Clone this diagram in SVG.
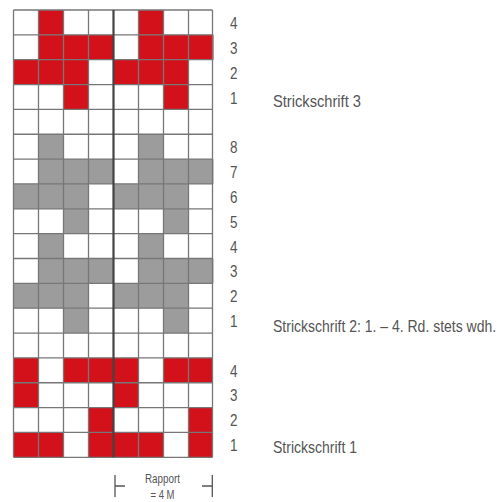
<svg xmlns="http://www.w3.org/2000/svg" width="502" height="502" viewBox="0 0 502 502">
<style>
.r{fill:#d2111b}
.g{fill:#9c9c9c}
.gl{stroke:#777;stroke-width:1.3;fill:none}
.mid{stroke:#444;stroke-width:2.2}
.t{font-family:"Liberation Sans",Arial,sans-serif;fill:#555}
.n{font-size:17px}
.l{font-size:14px}
.b{stroke:#555;stroke-width:1.3;fill:none}
</style>
<rect width="502" height="502" fill="#fff"/>
<defs>
<g id="m1"><rect x="25" y="0" width="25" height="24.85"/></g>
<g id="m3"><rect x="25" y="0" width="75" height="24.85"/></g>
<g id="m2"><rect x="0" y="0" width="75" height="24.85"/></g>
<g id="m0"><rect x="50" y="0" width="25" height="24.85"/></g>
</defs>
<g id="strickschrift3" class="r">
<use href="#m1" x="13.5" y="10"/><use href="#m1" x="113.5" y="10"/>
<use href="#m3" x="13.5" y="34.85"/><use href="#m3" x="113.5" y="34.85"/>
<use href="#m2" x="13.5" y="59.7"/><use href="#m2" x="113.5" y="59.7"/>
<use href="#m0" x="13.5" y="84.55"/><use href="#m0" x="113.5" y="84.55"/>
</g>
<g id="strickschrift2" class="g">
<use href="#m1" x="13.5" y="134.25"/><use href="#m1" x="113.5" y="134.25"/>
<use href="#m3" x="13.5" y="159.1"/><use href="#m3" x="113.5" y="159.1"/>
<use href="#m2" x="13.5" y="183.95"/><use href="#m2" x="113.5" y="183.95"/>
<use href="#m0" x="13.5" y="208.8"/><use href="#m0" x="113.5" y="208.8"/>
<use href="#m1" x="13.5" y="233.65"/><use href="#m1" x="113.5" y="233.65"/>
<use href="#m3" x="13.5" y="258.5"/><use href="#m3" x="113.5" y="258.5"/>
<use href="#m2" x="13.5" y="283.35"/><use href="#m2" x="113.5" y="283.35"/>
<use href="#m0" x="13.5" y="308.2"/><use href="#m0" x="113.5" y="308.2"/>
</g>
<g id="strickschrift1" class="r">
<rect x="13.5" y="357.9" width="25" height="24.85"/><rect x="63.5" y="357.9" width="75" height="24.85"/><rect x="163.5" y="357.9" width="49" height="24.85"/>
<rect x="13.5" y="382.75" width="25" height="24.85"/><rect x="113.5" y="382.75" width="25" height="24.85"/>
<rect x="88.5" y="407.6" width="25" height="24.85"/><rect x="188.5" y="407.6" width="24" height="24.85"/>
<rect x="13.5" y="432.45" width="50" height="24.85"/><rect x="88.5" y="432.45" width="75" height="24.85"/><rect x="188.5" y="432.45" width="24" height="24.85"/>
</g>
<g id="grid" class="gl">
<path d="M13.5 10V457.3M38.5 10V457.3M63.5 10V457.3M88.5 10V457.3M138.5 10V457.3M163.5 10V457.3M188.5 10V457.3M212.5 10V457.3"/>
<path d="M13.5 10H212.5M13.5 34.85H212.5M13.5 59.7H212.5M13.5 84.55H212.5M13.5 109.4H212.5M13.5 134.25H212.5M13.5 159.1H212.5M13.5 183.95H212.5M13.5 208.8H212.5M13.5 233.65H212.5M13.5 258.5H212.5M13.5 283.35H212.5M13.5 308.2H212.5M13.5 333.05H212.5M13.5 357.9H212.5M13.5 382.75H212.5M13.5 407.6H212.5M13.5 432.45H212.5M13.5 457.3H212.5"/>
<path class="mid" d="M113.5 10V457.3"/>
</g>
<g id="rownumbers" class="t n">
<text x="230" y="29" textLength="7.5" lengthAdjust="spacingAndGlyphs">4</text>
<text x="230" y="54" textLength="7.5" lengthAdjust="spacingAndGlyphs">3</text>
<text x="230" y="79" textLength="7.5" lengthAdjust="spacingAndGlyphs">2</text>
<text x="230" y="104" textLength="7.5" lengthAdjust="spacingAndGlyphs">1</text>
<text x="230" y="153" textLength="7.5" lengthAdjust="spacingAndGlyphs">8</text>
<text x="230" y="178" textLength="7.5" lengthAdjust="spacingAndGlyphs">7</text>
<text x="230" y="203" textLength="7.5" lengthAdjust="spacingAndGlyphs">6</text>
<text x="230" y="228" textLength="7.5" lengthAdjust="spacingAndGlyphs">5</text>
<text x="230" y="253" textLength="7.5" lengthAdjust="spacingAndGlyphs">4</text>
<text x="230" y="277" textLength="7.5" lengthAdjust="spacingAndGlyphs">3</text>
<text x="230" y="302" textLength="7.5" lengthAdjust="spacingAndGlyphs">2</text>
<text x="230" y="327" textLength="7.5" lengthAdjust="spacingAndGlyphs">1</text>
<text x="230" y="377" textLength="7.5" lengthAdjust="spacingAndGlyphs">4</text>
<text x="230" y="401" textLength="7.5" lengthAdjust="spacingAndGlyphs">3</text>
<text x="230" y="426" textLength="7.5" lengthAdjust="spacingAndGlyphs">2</text>
<text x="230" y="451" textLength="7.5" lengthAdjust="spacingAndGlyphs">1</text>
</g>
<g id="labels" class="t l">
<text transform="translate(273 106.5) scale(1 1.2)" textLength="88" lengthAdjust="spacingAndGlyphs">Strickschrift 3</text>
<text transform="translate(273 331.5) scale(1 1.2)">Strickschrift 2: 1. – 4. Rd. stets wdh.</text>
<text transform="translate(273 452.5) scale(1 1.2)" textLength="84" lengthAdjust="spacingAndGlyphs">Strickschrift 1</text>
</g>
<g id="rapport">
<path class="b" d="M115 475V497M115 486H125M212.3 475V497M212.3 486H202"/>
<text class="t" x="162.5" y="482.5" font-size="13" text-anchor="middle" textLength="35" lengthAdjust="spacingAndGlyphs">Rapport</text>
<text class="t" x="162.5" y="499" font-size="12" text-anchor="middle" textLength="24" lengthAdjust="spacingAndGlyphs">= 4 M</text>
</g>
</svg>
